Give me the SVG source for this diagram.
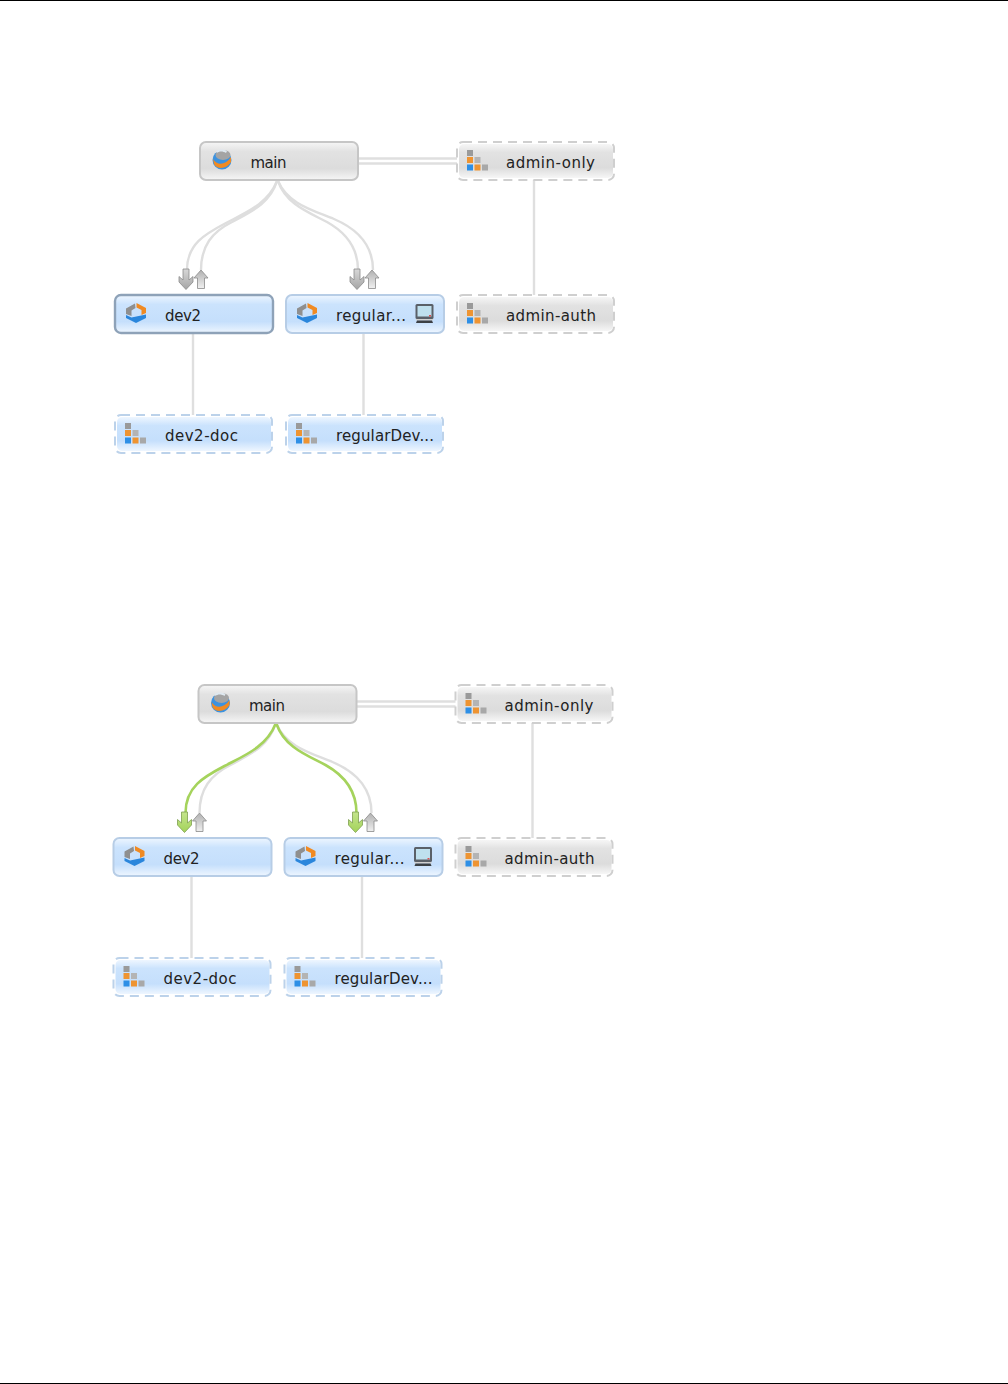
<svg xmlns="http://www.w3.org/2000/svg" xmlns:xlink="http://www.w3.org/1999/xlink" width="1008" height="1384" viewBox="0 0 1008 1384">
<style>
.box{stroke-width:2}
.grey{fill:url(#gGrey)}
.blue{fill:url(#gBlue)}
.sg{stroke:#c6c6c6}
.sb{stroke:#b7cde6}
.ssel{stroke:#8ea2b8;stroke-width:2.4}
.dash{fill:none;stroke-width:2;stroke-dasharray:9 6}
.dg{stroke:#cfcfcf}
.db{stroke:#bcd2ea}
.lbl{font-family:"DejaVu Sans",sans-serif;font-size:15px;fill:#222}
.ln{fill:none;stroke:#dfdfdf;stroke-width:2.4}
.cv{fill:none;stroke:#dedede;stroke-width:2.4}
.gr{fill:none;stroke:#a5d35c;stroke-width:2.6}
.ag{stroke:#8a8a8a;stroke-width:.8}
.an{stroke:#7f9f50;stroke-width:.8}
</style>
<defs>
<linearGradient id="gGrey" x1="0" y1="0" x2="0" y2="1"><stop offset="0" stop-color="#f6f6f6"/><stop offset=".25" stop-color="#e2e2e2"/><stop offset=".7" stop-color="#dcdcdc"/><stop offset="1" stop-color="#f6f6f6"/></linearGradient>
<linearGradient id="gBlue" x1="0" y1="0" x2="0" y2="1"><stop offset="0" stop-color="#eef6ff"/><stop offset=".25" stop-color="#cbe3fd"/><stop offset=".7" stop-color="#c5dffc"/><stop offset="1" stop-color="#eef6ff"/></linearGradient>
<linearGradient id="gDown" x1="0" y1="0" x2="0" y2="1"><stop offset="0" stop-color="#d8d8d8"/><stop offset="1" stop-color="#a4a4a4"/></linearGradient>
<linearGradient id="gUp" x1="0" y1="0" x2="0" y2="1"><stop offset="0" stop-color="#b0b0b0"/><stop offset="1" stop-color="#f0f0f0"/></linearGradient>
<linearGradient id="gGreen" x1="0" y1="0" x2="0" y2="1"><stop offset="0" stop-color="#c4e48c"/><stop offset="1" stop-color="#a3d35a"/></linearGradient>
<filter id="soft" x="-10%" y="-10%" width="120%" height="120%"><feGaussianBlur stdDeviation=".45"/></filter>
<g id="iStack" filter="url(#soft)">
<rect x="10" y="8" width="6" height="6" fill="#9a9a9a"/>
<rect x="10" y="15" width="6" height="6" fill="#ee9433"/><rect x="17.500" y="15" width="6" height="6" fill="#b4b4b4"/>
<rect x="10" y="22.500" width="6" height="6" fill="#2f8fe6"/><rect x="17.500" y="22.500" width="6" height="6" fill="#ee9433"/><rect x="25" y="22.500" width="6" height="6" fill="#a8a8a8"/>
</g>
<g id="iCube" filter="url(#soft)">
<path d="M21.500 8 L31 13 V18 L26.500 20 V15 L21.500 12.500Z" fill="#f08a24"/>
<path d="M20 8.500 L11 13.500 V19 L16.500 21 V15.500 L20.500 13Z" fill="#8f8f8f"/>
<path d="M11 20 L16.500 22.500 L31 19.500 V23 L21 28 L11 23Z" fill="#2b86dc"/>
</g>
<g id="iDb" filter="url(#soft)">
<ellipse cx="22" cy="18" rx="9.500" ry="9.500" fill="#3a92e0"/>
<path d="M13 17 C17 24 26 23 31 15 L31 20 C27 27 17 28 14 22Z" fill="#f08a24"/>
<ellipse cx="23" cy="13" rx="7.500" ry="5" fill="#a4a4a4"/>
<path d="M16 9 C19 7 24 7 27 9 L26 11 C23 9 19 9 17 11Z" fill="#dfe8ef"/>
</g>
<g id="iMon" filter="url(#soft)">
<rect x="129.500" y="9" width="18" height="15" rx="1.500" fill="#5a6068"/>
<rect x="131.500" y="11" width="14" height="10.500" fill="#bfe0ee"/>
<rect x="143" y="20" width="2" height="1.500" fill="#e05050"/>
<rect x="130" y="24" width="17" height="1.500" fill="#d0d0d0"/>
<path d="M131 25.500 H146 L147 28 H130Z" fill="#3b3f45"/>
</g>
<path id="aDown" filter="url(#soft)" d="M-3 0 H3 V11 L7 7.500 V13 L0 20.500 L-7 13 V7.500 L-3 11Z"/>
<path id="aUp" filter="url(#soft)" d="M0 0 L7 8 H3.500 V18.500 H-3.500 V8 H-7Z"/>
</defs>

<rect x="0" y="0" width="1008" height="1" fill="#000"/>
<rect x="0" y="1383" width="1008" height="1" fill="#000"/>

<g id="connectors-top">
<path class="ln" d="M358 158.500 H457 M358 163.500 H457"/>
<path class="ln" d="M534 180 V295 M193 333 V415 M363.500 333 V415"/>
<path class="cv" d="M277 181 C268 204 245 213 226 223 C205 234 187 244 187 270"/>
<path class="cv" d="M277 181 C270 204 250 212 232 222 C212 232 201 246 201 270"/>
<path class="cv" d="M278 181 C286 204 308 212 327 222 C345 232 358 246 358 270"/>
<path class="cv" d="M278 181 C288 204 312 210 334 219 C355 228 373 244 373 270"/>
<use href="#aDown" x="186" y="269" fill="url(#gDown)" class="ag"/>
<use href="#aUp" x="201" y="270" fill="url(#gUp)" class="ag"/>
<use href="#aDown" x="357" y="269" fill="url(#gDown)" class="ag"/>
<use href="#aUp" x="372" y="270" fill="url(#gUp)" class="ag"/>
</g>

<g id="main-1" transform="translate(200,142)"><rect class="box grey sg" x="0" y="0" width="158" height="38" rx="6"/><use href="#iDb"/><text class="lbl" x="50.500" y="26" textLength="36">main</text></g>
<g id="admin-only-1" transform="translate(457,142)"><rect class="grey" x="2" y="2" width="154" height="34" rx="5"/><rect class="dash dg" x="0" y="0" width="157" height="38" rx="6"/><use href="#iStack"/><text class="lbl" x="49" y="26" textLength="89">admin-only</text></g>
<g id="dev2-1" transform="translate(115,295)"><rect class="box blue ssel" x="0" y="0" width="158" height="38" rx="6"/><use href="#iCube"/><text class="lbl" x="50" y="25.500" textLength="36">dev2</text></g>
<g id="regular-1" transform="translate(286,295)"><rect class="box blue sb" x="0" y="0" width="158" height="38" rx="6"/><use href="#iCube"/><text class="lbl" x="50" y="26" textLength="70">regular...</text><use href="#iMon"/></g>
<g id="admin-auth-1" transform="translate(457,295)"><rect class="grey" x="2" y="2" width="154" height="34" rx="5"/><rect class="dash dg" x="0" y="0" width="157" height="38" rx="6"/><use href="#iStack"/><text class="lbl" x="49" y="26" textLength="90">admin-auth</text></g>
<g id="dev2-doc-1" transform="translate(115,415)"><rect class="blue" x="2" y="2" width="154" height="34" rx="5"/><rect class="dash db" x="0" y="0" width="157" height="38" rx="6"/><use href="#iStack"/><text class="lbl" x="50" y="26" textLength="73">dev2-doc</text></g>
<g id="regularDev-1" transform="translate(286,415)"><rect class="blue" x="2" y="2" width="154" height="34" rx="5"/><rect class="dash db" x="0" y="0" width="157" height="38" rx="6"/><use href="#iStack"/><text class="lbl" x="50" y="26" textLength="98">regularDev...</text></g>

<g id="connectors-bottom" transform="translate(-1.500,543)">
<path class="ln" d="M358 158.500 H457 M358 163.500 H457"/>
<path class="ln" d="M534 180 V295 M193 333 V415 M363.500 333 V415"/>
<path class="cv" d="M277 181 C270 204 250 212 232 222 C212 232 201 246 201 270"/>
<path class="cv" d="M278 181 C288 204 312 210 334 219 C355 228 373 244 373 270"/>
<path class="gr" d="M277 181 C268 204 245 213 226 223 C205 234 187 244 187 270"/>
<path class="gr" d="M278 181 C286 204 308 212 327 222 C345 232 358 246 358 270"/>
<use href="#aDown" x="186" y="269" fill="url(#gGreen)" class="an"/>
<use href="#aUp" x="201" y="270" fill="url(#gUp)" class="ag"/>
<use href="#aDown" x="357" y="269" fill="url(#gGreen)" class="an"/>
<use href="#aUp" x="372" y="270" fill="url(#gUp)" class="ag"/>
</g>

<g id="main-2" transform="translate(198.500,685)"><rect class="box grey sg" x="0" y="0" width="158" height="38" rx="6"/><use href="#iDb"/><text class="lbl" x="50.500" y="26" textLength="36">main</text></g>
<g id="admin-only-2" transform="translate(455.500,685)"><rect class="grey" x="2" y="2" width="154" height="34" rx="5"/><rect class="dash dg" x="0" y="0" width="157" height="38" rx="6"/><use href="#iStack"/><text class="lbl" x="49" y="26" textLength="89">admin-only</text></g>
<g id="dev2-2" transform="translate(113.500,838)"><rect class="box blue sb" x="0" y="0" width="158" height="38" rx="6"/><use href="#iCube"/><text class="lbl" x="50" y="26" textLength="36">dev2</text></g>
<g id="regular-2" transform="translate(284.500,838)"><rect class="box blue sb" x="0" y="0" width="158" height="38" rx="6"/><use href="#iCube"/><text class="lbl" x="50" y="26" textLength="70">regular...</text><use href="#iMon"/></g>
<g id="admin-auth-2" transform="translate(455.500,838)"><rect class="grey" x="2" y="2" width="154" height="34" rx="5"/><rect class="dash dg" x="0" y="0" width="157" height="38" rx="6"/><use href="#iStack"/><text class="lbl" x="49" y="26" textLength="90">admin-auth</text></g>
<g id="dev2-doc-2" transform="translate(113.500,958)"><rect class="blue" x="2" y="2" width="154" height="34" rx="5"/><rect class="dash db" x="0" y="0" width="157" height="38" rx="6"/><use href="#iStack"/><text class="lbl" x="50" y="26" textLength="73">dev2-doc</text></g>
<g id="regularDev-2" transform="translate(284.500,958)"><rect class="blue" x="2" y="2" width="154" height="34" rx="5"/><rect class="dash db" x="0" y="0" width="157" height="38" rx="6"/><use href="#iStack"/><text class="lbl" x="50" y="26" textLength="98">regularDev...</text></g>
</svg>
